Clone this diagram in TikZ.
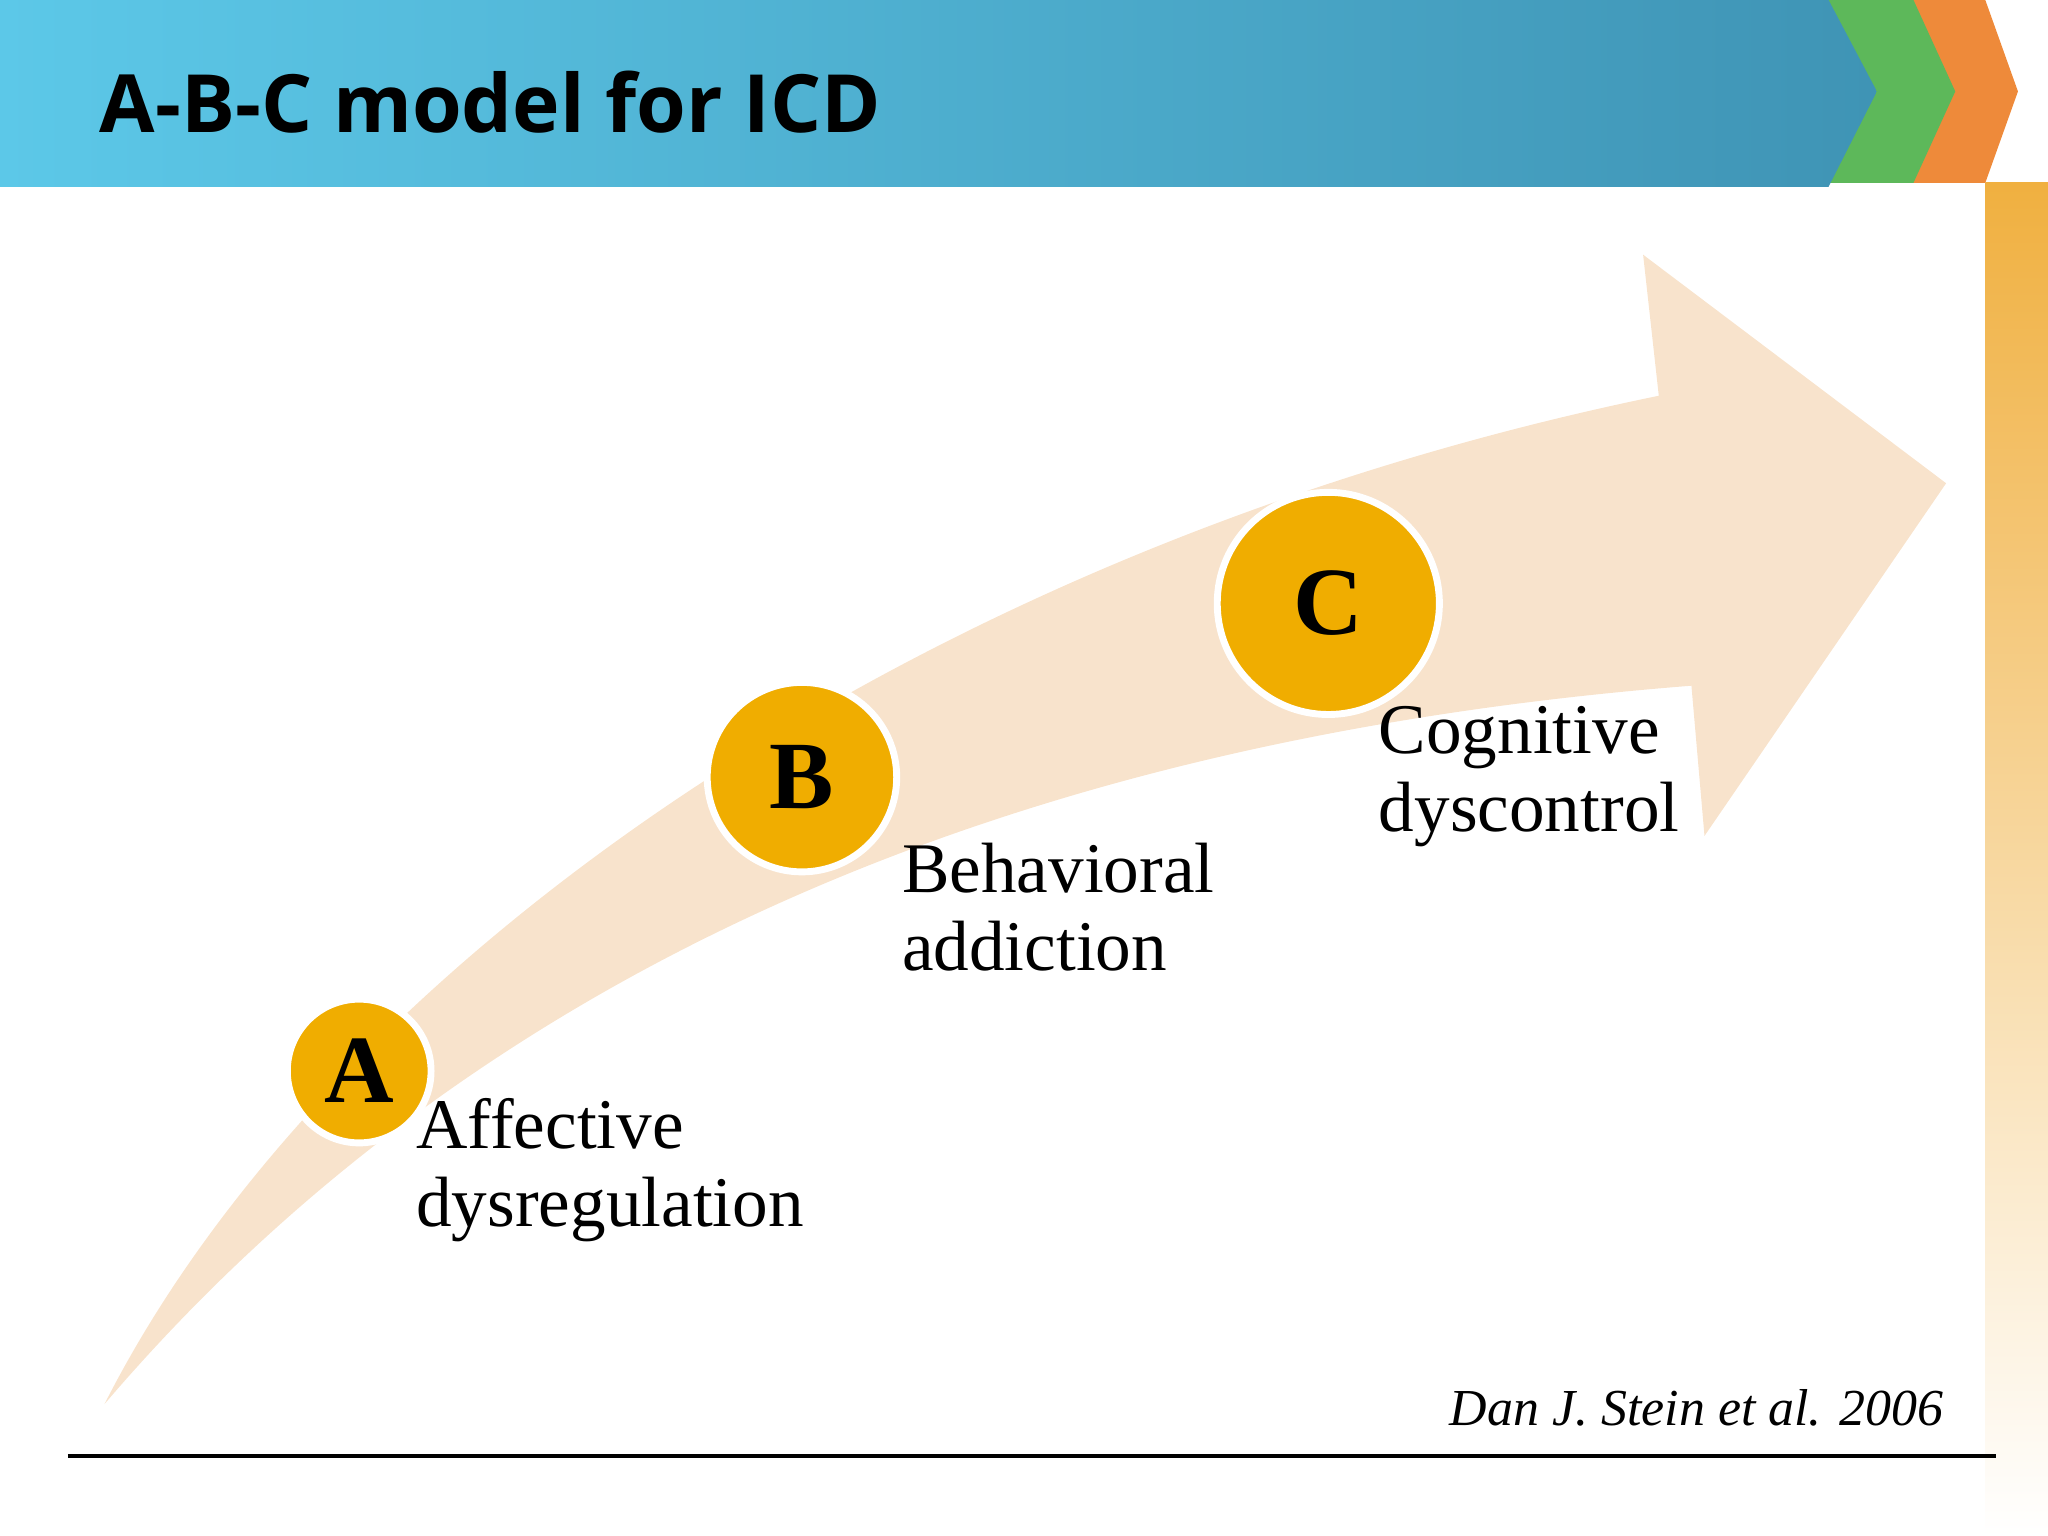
\documentclass[tikz,border=0pt]{standalone}
\usepackage{fontspec}
\setmainfont{Liberation Serif}
\newfontfamily\titlefont{Open Sans}
\begin{document}
\begin{tikzpicture}[x=0.01cm,y=-0.01cm,
  circ/.style={circle,fill=abcgold,draw=white,line width=1.5pt,inner sep=0pt,font=\bfseries\fontsize{21}{25}\selectfont},
  lab/.style={anchor=north west,align=left,font=\fontsize{15.5}{17}\selectfont,inner sep=0pt}]
\definecolor{abcgold}{HTML}{F0AD00}
\definecolor{peach}{HTML}{F8E3CC}
\definecolor{barL}{HTML}{5CC8E8}
\definecolor{barR}{HTML}{3F94B5}
\definecolor{chgreen}{HTML}{5DB85A}
\definecolor{chorange}{HTML}{EE8A3A}
\definecolor{strip}{HTML}{F0B040}
\useasboundingbox (0,0) rectangle (1568,1176);
% right strip
\shade[top color=strip, bottom color=white] (1520,140) rectangle (1568,1176);
% chevrons
\fill[chorange] (1455,0) -- (1520,0) -- (1545,70) -- (1520,140) -- (1455,140) -- (1485,70) -- cycle;
\fill[chgreen] (1395,0) -- (1465,0) -- (1497,70) -- (1465,140) -- (1395,140) -- (1425,70) -- cycle;
% title bar
\shade[left color=barL, right color=barR] (0,0) -- (1400,0) -- (1437,70) -- (1400,143) -- (0,143) -- cycle;
\node[anchor=west,font=\titlefont\bfseries\fontsize{17.5}{21}\selectfont] (title) at (64,78) {A-B-C model for ICD};
% arrow
\fill[peach] (80,1075) .. controls (250,740) and (700,420) .. (1270,303)
  -- (1258,195) -- (1490,370) -- (1305,640) -- (1295,525)
  .. controls (850,560) and (400,700) .. (80,1075) -- cycle;
% circles
\node[circ,minimum size=1.1cm] (A) at (275,820) {A};
\node[circ,minimum size=1.45cm] (B) at (614,595) {B};
\node[circ,minimum size=1.7cm] (C) at (1017,462) {C};
\node[lab] (la) at (318,840) {Affective\\dysregulation};
\node[lab] (lb) at (690,645) {Behavioral\\addiction};
\node[lab] (lc) at (1055,540) {Cognitive\\dyscontrol};
\node[anchor=east,font=\itshape\fontsize{11.3}{13}\selectfont] (cite) at (1500,1078) {Dan J. Stein et al. 2006};
\coordinate (l1) at (52,1115); \coordinate (l2) at (1528,1115);
\draw[line width=0.8pt] (l1) -- (l2);
\end{tikzpicture}
\end{document}
